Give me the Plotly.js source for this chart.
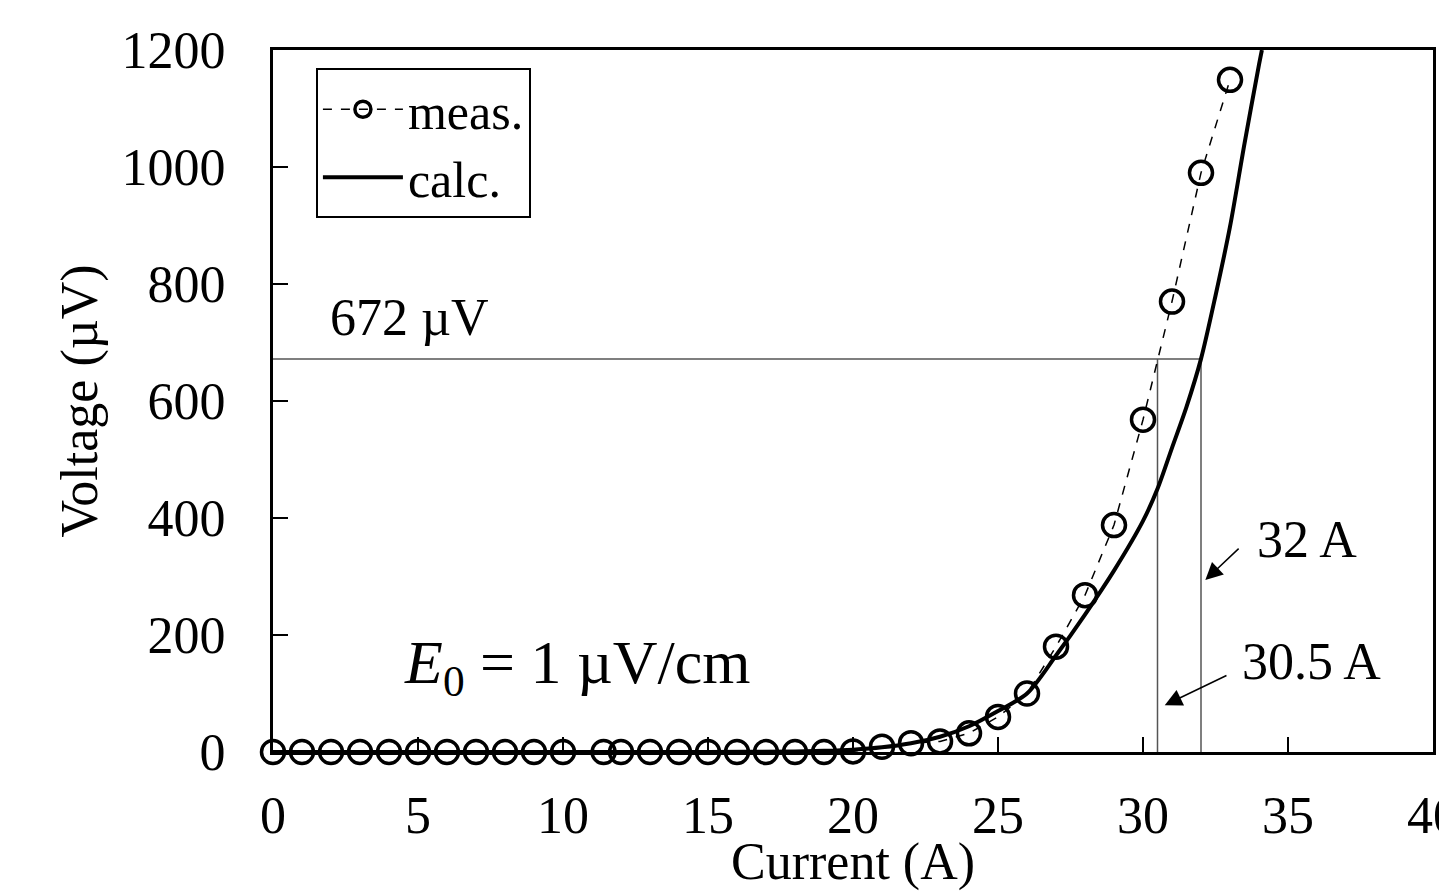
<!DOCTYPE html>
<html>
<head>
<meta charset="utf-8">
<script src="https://cdn.plot.ly/plotly-3.0.1.min.js"></script>
<style>html,body{margin:0;padding:0;background:#fff;overflow:hidden}#chart{width:1439px;height:891px}</style>
</head>
<body>
<div id="chart"></div>
<script>
// measured data
const measCurrent = [0,1,2,3,4,5,6,7,8,9,10,11.4,12,13,14,15,16,17,18,19,20,21,22,23,24,25,26,27,28,29,30,31,32,33];
const measVoltage = [0,0,0,0,0,0,0,0,0,0,0,0,0,0,0,0,0,0,0,0,1,9,15,18,32,60,100,180,268,388,568,770,990,1149];
// calculated curve
const calcCurrent = [0,10,15,18,19,20,21,22,23,24,25,26,27,28,29,30,30.5,31,31.5,32,32.5,33,33.5,34,34.1];
const calcVoltage = [0,0,0,1,2,4,8,15,26,44,70,100,165,235,310,395,450,520,590,672,780,898,1040,1175,1200];
// criterion
const criterionVoltage = 672;
const criticalCurrents = [30.5, 32];
const xTicks = [0,5,10,15,20,25,30,35,40];
const yTicks = [0,200,400,600,800,1000,1200];

const FONT = '"Liberation Serif","Times New Roman",Times,serif';

const traces = [
  {
    x: measCurrent, y: measVoltage, name: 'meas.', type: 'scatter', mode: 'lines+markers',
    line: {color: 'black', width: 1.5, dash: 'dash'},
    marker: {symbol: 'circle-open', size: 23, color: 'black', line: {width: 3.5, color: 'black'}},
    cliponaxis: false
  },
  {
    x: calcCurrent, y: calcVoltage, name: 'calc.', type: 'scatter', mode: 'lines',
    line: {color: 'black', width: 4, shape: 'spline', smoothing: 0.8}
  }
];

const refColor = '#555';
const shapes = [
  {type: 'line', xref: 'x', yref: 'y', x0: 0, x1: criticalCurrents[1], y0: criterionVoltage, y1: criterionVoltage, line: {color: refColor, width: 1.5}, layer: 'below'},
  {type: 'line', xref: 'x', yref: 'y', x0: criticalCurrents[0], x1: criticalCurrents[0], y0: 0, y1: criterionVoltage, line: {color: refColor, width: 1.5}, layer: 'below'},
  {type: 'line', xref: 'x', yref: 'y', x0: criticalCurrents[1], x1: criticalCurrents[1], y0: 0, y1: criterionVoltage, line: {color: refColor, width: 1.5}, layer: 'below'}
];

const annotations = [
  {x: 4.72, y: 742, xref: 'x', yref: 'y', text: criterionVoltage + ' µV', showarrow: false, font: {family: FONT, size: 52, color: 'black'}},
  {x: 10.5, y: 146, xref: 'x', yref: 'y', text: '<i>E</i><sub>0</sub> = 1 µV/cm', showarrow: false, font: {family: FONT, size: 62, color: 'black'}},
  // labels
  {x: 35.65, y: 364, xref: 'x', yref: 'y', text: criticalCurrents[1] + ' A', showarrow: false, font: {family: FONT, size: 52, color: 'black'}},
  {x: 35.8, y: 154, xref: 'x', yref: 'y', text: criticalCurrents[0] + ' A', showarrow: false, font: {family: FONT, size: 52, color: 'black'}},
  // arrows
  {x: 32.15, y: 294, xref: 'x', yref: 'y', ax: 33.35, ay: 350, axref: 'x', ayref: 'y', text: ' ', showarrow: true,
   arrowhead: 2, arrowsize: 2.3, arrowwidth: 1.5, arrowcolor: 'black', font: {size: 1}},
  {x: 30.75, y: 80, xref: 'x', yref: 'y', ax: 32.93, ay: 132, axref: 'x', ayref: 'y', text: ' ', showarrow: true,
   arrowhead: 2, arrowsize: 2.3, arrowwidth: 1.5, arrowcolor: 'black', font: {size: 1}}
];

const layout = {
  width: 1439, height: 891,
  margin: {l: 273, r: 6, t: 50, b: 139},
  paper_bgcolor: 'white', plot_bgcolor: 'white',
  font: {family: FONT, size: 52, color: 'black'},
  showlegend: true,
  legend: {x: 0.037, y: 0.974, xanchor: 'left', yanchor: 'top', bgcolor: 'white', bordercolor: 'black', borderwidth: 2,
           font: {family: FONT, size: 50, color: 'black'}, itemwidth: 80, tracegroupgap: 0},
  xaxis: {
    range: [0, 40], tickvals: xTicks, ticktext: xTicks.map(String), ticks: 'inside', ticklen: 15, tickwidth: 2.5, tickcolor: 'black',
    showline: true, linecolor: 'black', linewidth: 3, mirror: true, showgrid: false, zeroline: false,
    ticklabelstandoff: 16, ticklabeloverflow: 'allow', tickfont: {family: FONT, size: 52, color: 'black'},
    title: {text: 'Current (A)', font: {family: FONT, size: 52, color: 'black'}, standoff: 22}
  },
  yaxis: {
    range: [0, 1200], tickvals: yTicks, ticktext: yTicks.map(String), ticks: 'inside', ticklen: 15, tickwidth: 2.5, tickcolor: 'black',
    showline: true, linecolor: 'black', linewidth: 3, mirror: true, showgrid: false, zeroline: false,
    ticklabelstandoff: 34, tickfont: {family: FONT, size: 52, color: 'black'},
    title: {text: 'Voltage (µV)', font: {family: FONT, size: 52, color: 'black'}, standoff: 8}
  },
  shapes: shapes,
  annotations: annotations
};

Plotly.newPlot('chart', traces, layout, {displayModeBar: false, staticPlot: true});
</script>
</body>
</html>
